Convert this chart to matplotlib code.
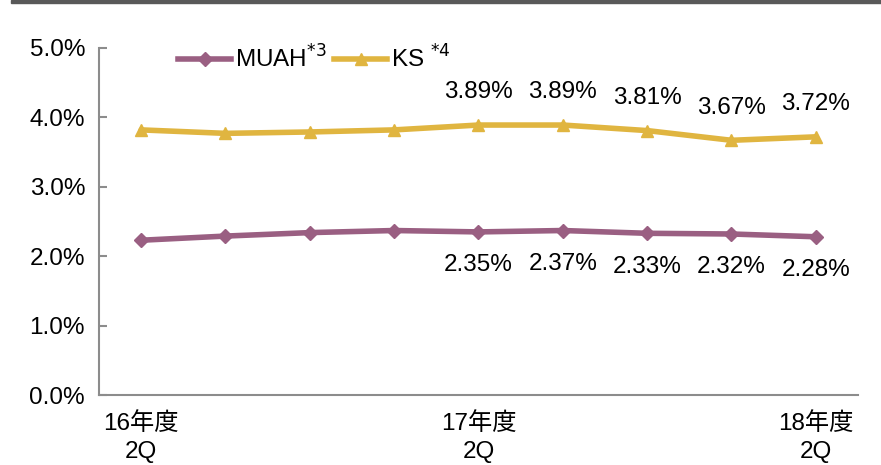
import numpy as np
import matplotlib
matplotlib.use("Agg")
import matplotlib.pyplot as plt
from matplotlib.lines import Line2D

plt.rcParams["font.family"] = ["Liberation Sans", "Noto Sans CJK JP"]

# data ---------------------------------------------------------------------
quarters = ["16年度\n2Q", "", "", "", "17年度\n2Q", "", "", "", "18年度\n2Q"]
muah = [2.23, 2.29, 2.34, 2.37, 2.35, 2.37, 2.33, 2.32, 2.28]
ks = [3.82, 3.77, 3.79, 3.82, 3.89, 3.89, 3.81, 3.67, 3.72]
label_from = 4  # labels shown for the last five quarters

PURPLE = "#9a5f82"
GOLD = "#e0b540"
GRAY = "#8c8c8c"
FS = 17.5

fig = plt.figure(figsize=(8.81, 4.65), dpi=100)
ax = fig.add_axes([99 / 881, 1 - 395 / 465, (858 - 99) / 881, (395 - 48) / 465])

x = np.arange(len(muah))
ax.plot(x, muah, color=PURPLE, lw=4, marker="D", ms=7, solid_capstyle="round")
ax.plot(x, ks, color=GOLD, lw=4, marker="^", ms=9, solid_capstyle="round")

for i in range(label_from, len(x)):
    ax.text(x[i], ks[i] + 0.47, f"{ks[i]:.2f}%", ha="center", va="center", fontsize=FS)
    ax.text(x[i], muah[i] - 0.48, f"{muah[i]:.2f}%", ha="center", va="center", fontsize=FS)

ax.set_xlim(-0.5, len(x) - 0.5)
ax.set_ylim(0, 5)
ax.set_yticks(np.arange(0, 5.01, 1))
ax.set_yticklabels([f"{v:.1f}%" for v in np.arange(0, 5.01, 1)], fontsize=FS)
ax.set_xticks(x)
ax.set_xticklabels(quarters, fontsize=FS, linespacing=1.4)
ax.tick_params(axis="y", direction="in", length=6, color=GRAY, width=1.5, pad=10)
ax.tick_params(axis="x", length=0, pad=12)
for s in ["top", "right"]:
    ax.spines[s].set_visible(False)
for s in ["left", "bottom"]:
    ax.spines[s].set_color(GRAY)
    ax.spines[s].set_linewidth(1.5)

# legend
handles = [Line2D([], [], color=PURPLE, lw=4, marker="D", ms=7),
           Line2D([], [], color=GOLD, lw=4, marker="^", ms=9)]
leg = ax.legend(handles, [r"MUAH$^{*3}$", r"KS $^{*4}$"], ncol=2, frameon=False,
                loc="upper left", bbox_to_anchor=(0.075, 1.07), fontsize=FS,
                handlelength=2.2, handletextpad=0.15, columnspacing=0.3)

# dark band at the top
fig.patches.append(plt.Rectangle((11 / 881, 1 - 3.5 / 465), 1, 3.5 / 465,
                                 transform=fig.transFigure, color="#595959"))

fig.savefig("out.png", dpi=100)
